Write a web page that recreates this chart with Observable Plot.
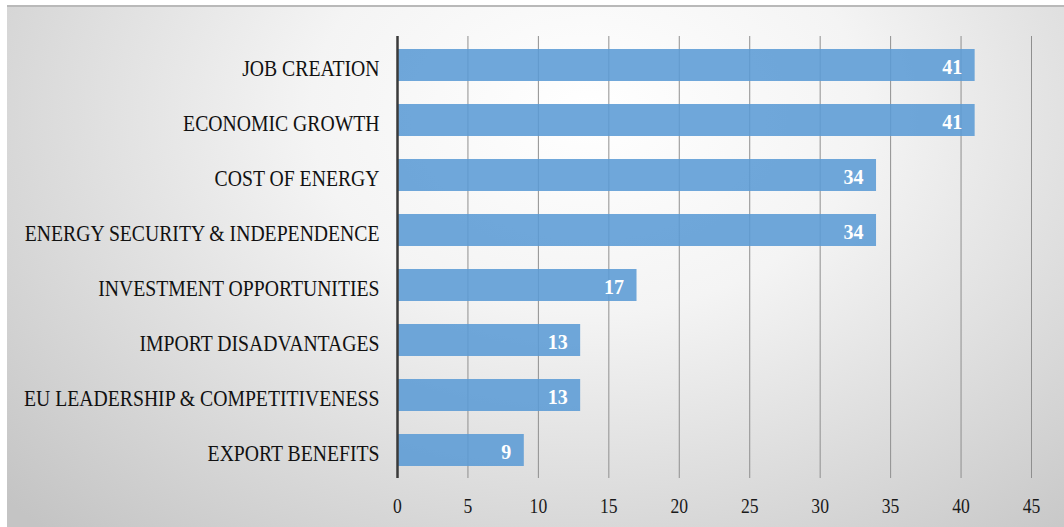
<!DOCTYPE html>
<html>
<head>
<meta charset="utf-8">
<script src="https://cdn.jsdelivr.net/npm/d3@7"></script>
<script src="https://cdn.jsdelivr.net/npm/@observablehq/plot@0.6"></script>
<style>
  html, body { margin: 0; padding: 0; background: #ffffff; }
  body { width: 1064px; height: 527px; position: relative; overflow: hidden; }
  #panel {
    position: absolute; left: 7px; top: 5px; width: 1057px; height: 522px;
    border-top: 2px solid #b9b9b9;
    background: radial-gradient(ellipse 75% 110% at 55% 20%, #ffffff 0%, #f4f4f4 35%, #dadada 70%, #c4c4c4 100%);
  }
  #panel svg { position: absolute; left: 0; top: 0; background: transparent; }
</style>
</head>
<body>
<div id="panel"></div>
<script>
const categories = [
  "JOB CREATION",
  "ECONOMIC GROWTH",
  "COST OF ENERGY",
  "ENERGY SECURITY & INDEPENDENCE",
  "INVESTMENT OPPORTUNITIES",
  "IMPORT DISADVANTAGES",
  "EU LEADERSHIP & COMPETITIVENESS",
  "EXPORT BENEFITS"
];
const values = [41, 41, 34, 34, 17, 13, 13, 9];
const xTicks = [0, 5, 10, 15, 20, 25, 30, 35, 40, 45];

const data = categories.map((c, i) => ({category: c, value: values[i]}));

const chart = Plot.plot({
  width: 1057,
  height: 520,
  marginLeft: 390,
  marginRight: 33,
  marginTop: 29,
  marginBottom: 49,
  style: {background: "transparent", fontFamily: "'Liberation Serif', 'Times New Roman', serif", color: "#222"},
  x: {domain: [0, 45], ticks: xTicks, label: null, grid: false},
  y: {domain: categories, label: null, paddingInner: 0.42, paddingOuter: 0.21},
  marks: [
    Plot.gridX(xTicks, {stroke: "#8f8f8f", strokeOpacity: 1, strokeWidth: 1}),
    Plot.barX(data, {x: "value", y: "category", fill: "#5b9bd5", fillOpacity: 0.88}),
    Plot.text(data, {x: "value", y: "category", text: d => String(d.value), textAnchor: "end", dx: -13, dy: 2,
      fill: "#ffffff", fontWeight: "bold", fontSize: 20, fontFamily: "'Liberation Serif', serif"}),
    Plot.ruleX([0], {stroke: "#3a3a3a", strokeWidth: 2.5}),
    Plot.axisX(xTicks, {tickSize: 0, tickPadding: 19, fontSize: 20, label: null, fill: "#1a1a1a"}),
    Plot.axisY({tickSize: 0, tickPadding: 18, fontSize: 19.7, dy: 3, label: null, fill: "#111"})
  ]
});
document.getElementById("panel").appendChild(chart);

// stretch axis label glyphs vertically, as in the reference rendering
function stretch(sel, sx, sy) {
  chart.querySelectorAll(sel).forEach(t => {
    const tr = t.getAttribute("transform");
    if (tr) t.setAttribute("transform", tr + ` scale(${sx},${sy})`);
  });
}
stretch('g[aria-label="y-axis tick label"] text', 1, 1.16);
stretch('g[aria-label="x-axis tick label"] text', 0.88, 1.1);
</script>
</body>
</html>
